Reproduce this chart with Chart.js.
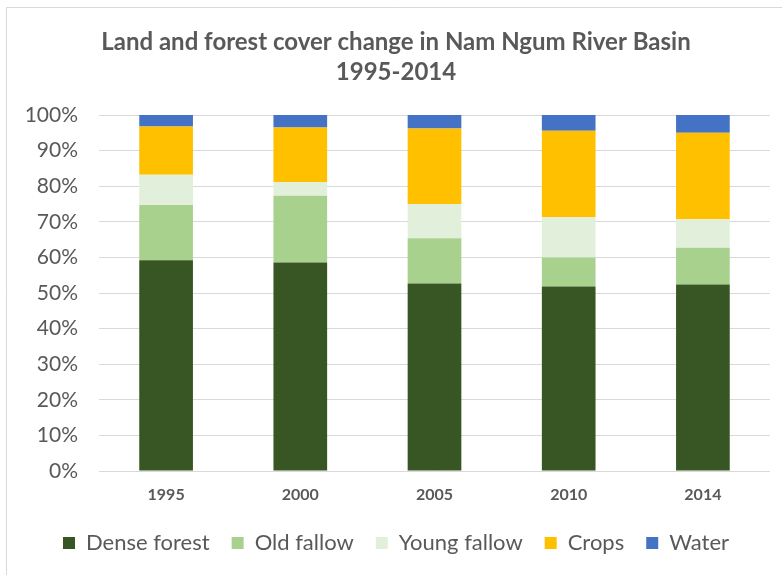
<!DOCTYPE html>
<html>
<head>
<meta charset="utf-8">
<script src="https://cdn.jsdelivr.net/npm/chart.js@4.4.1/dist/chart.umd.min.js"></script>
<style>
  html, body { margin: 0; padding: 0; background: #ffffff; }
  #wrap { width: 782px; height: 575px; position: relative; }
</style>
</head>
<body>
<div id="wrap"><canvas id="c" width="782" height="575"></canvas></div>
<script>
const categories = ['1995', '2000', '2005', '2010', '2014'];
const denseForest = [59.2, 58.6, 52.7, 51.8, 52.4];
const oldFallow   = [15.5, 18.7, 12.7, 8.2, 10.3];
const youngFallow = [8.5, 3.9, 9.6, 11.3, 8.0];
const crops       = [13.6, 15.3, 21.2, 24.3, 24.3];
const water       = [3.2, 3.5, 3.8, 4.4, 5.0];
const seriesNames = ['Dense forest', 'Old fallow', 'Young fallow', 'Crops', 'Water'];
const titleLines = ['Land and forest cover change in Nam Ngum River Basin', '1995-2014'];

const colors = ['#375623', '#a9d18e', '#e2efda', '#ffc000', '#4472c4'];
const seriesData = [denseForest, oldFallow, youngFallow, crops, water];

const frame = {
  id: 'frame',
  beforeDraw(chart) {
    const ctx = chart.ctx;
    ctx.save();
    ctx.fillStyle = '#ffffff';
    ctx.fillRect(0, 0, chart.width, chart.height);
    ctx.strokeStyle = '#d9d9d9';
    ctx.lineWidth = 1;
    ctx.beginPath();
    ctx.moveTo(6.5, chart.height);
    ctx.lineTo(6.5, 7.5);
    ctx.lineTo(chart.width, 7.5);
    ctx.stroke();
    ctx.restore();
  }
};

new Chart(document.getElementById('c'), {
  type: 'bar',
  data: {
    labels: categories,
    datasets: seriesNames.map((n, i) => ({
      label: n,
      data: seriesData[i],
      backgroundColor: colors[i],
      borderWidth: 0,
      categoryPercentage: 1.0,
      barPercentage: 0.4
    }))
  },
  options: {
    responsive: false,
    animation: false,
    devicePixelRatio: 1,
    layout: { padding: { left: 22, right: 12, top: 21, bottom: 11 } },
    plugins: {
      title: {
        display: true,
        text: titleLines,
        color: '#595959',
        font: { family: 'Lato', size: 24, weight: 'bold', lineHeight: 1.25 },
        padding: { top: 6, bottom: 28 }
      },
      legend: {
        position: 'bottom',
        labels: {
          color: '#595959',
          font: { family: 'Lato', size: 22 },
          boxWidth: 12,
          boxHeight: 12,
          padding: 22
        }
      },
      tooltip: { enabled: false }
    },
    scales: {
      x: {
        stacked: true,
        grid: { display: false, drawTicks: false },
        border: { display: false },
        ticks: {
          color: '#595959',
          font: { family: 'Lato', size: 16, weight: 'bold' },
          padding: 14
        },
        afterFit(scale) { scale.height = 39; }
      },
      y: {
        stacked: true,
        min: 0,
        max: 100,
        border: { display: false },
        grid: { color: '#d9d9d9', lineWidth: 1, drawTicks: false },
        ticks: {
          stepSize: 10,
          color: '#595959',
          font: { family: 'Lato', size: 21 },
          padding: 21,
          callback: v => v + '%'
        },
        afterFit(scale) { scale.width = 77; }
      }
    }
  },
  plugins: [frame]
});
</script>
</body>
</html>
